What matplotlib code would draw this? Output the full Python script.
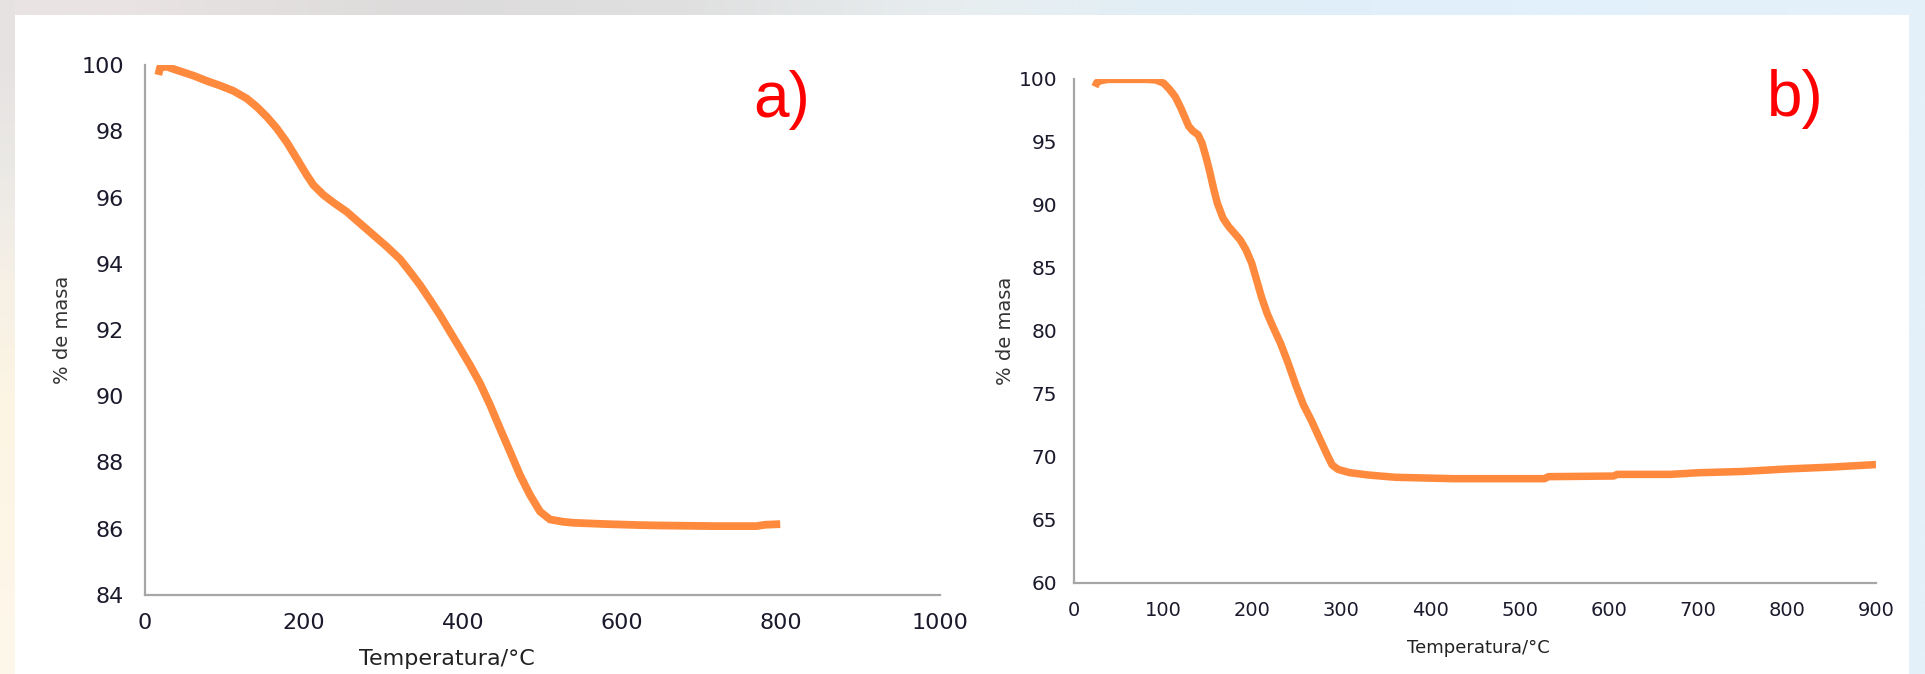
import numpy as np
import matplotlib
matplotlib.use("Agg")
import matplotlib.pyplot as plt
from matplotlib.colors import to_rgb
from matplotlib.patches import Rectangle

# ---------------- data ----------------
temp_a = [16.8, 18.9, 27.3, 35.6, 48.2, 60.8, 77.6, 94.3, 111.1, 127.9, 140.5,
          153.1, 165.7, 178.3, 190.8, 203.4, 211.7, 224.3, 236.9, 253.7, 270.4,
          287.2, 304.0, 320.8, 333.3, 345.9, 358.5, 371.1, 383.6, 396.2, 408.8,
          421.4, 434.0, 446.5, 459.1, 471.7, 484.3, 496.9, 509.4, 526.2, 538.8,
          580.7, 622.6, 644.0, 715.0, 769.0, 780.0, 799.0]
mass_a = [99.70, 99.92, 99.95, 99.88, 99.78, 99.68, 99.52, 99.38, 99.22, 98.99,
          98.74, 98.44, 98.09, 97.67, 97.18, 96.68, 96.38, 96.08, 95.85, 95.57,
          95.22, 94.87, 94.52, 94.14, 93.76, 93.36, 92.91, 92.45, 91.95, 91.45,
          90.94, 90.39, 89.74, 89.03, 88.33, 87.62, 87.02, 86.52, 86.28, 86.21,
          86.18, 86.14, 86.11, 86.10, 86.08, 86.08, 86.12, 86.14]

temp_b = [23.5, 25.6, 29.9, 38.5, 81.4, 92.1, 100.8, 107.2, 113.6, 120.1, 124.4,
          128.6, 133.0, 139.4, 143.7, 148.0, 152.3, 156.6, 160.9, 167.3, 173.7,
          180.2, 186.6, 193.1, 199.5, 206.0, 210.3, 216.7, 223.2, 231.8, 240.4,
          248.9, 257.5, 266.1, 274.7, 283.3, 289.7, 296.2, 309.1, 330.5, 360.6,
          425.0, 528.0, 532.4, 605.4, 609.7, 669.0, 700.0, 750.0, 800.0, 850.0,
          900.0]
mass_b = [99.39, 99.71, 99.87, 99.97, 99.97, 99.92, 99.66, 99.18, 98.60, 97.67,
          96.96, 96.27, 95.90, 95.56, 94.90, 93.84, 92.65, 91.32, 90.13, 88.94,
          88.28, 87.75, 87.22, 86.43, 85.37, 83.78, 82.72, 81.40, 80.34, 79.02,
          77.43, 75.71, 74.13, 72.94, 71.61, 70.29, 69.37, 69.02, 68.76, 68.57,
          68.39, 68.28, 68.28, 68.44, 68.49, 68.62, 68.62, 68.75, 68.85, 69.05,
          69.20, 69.40]

xticks_a = [0, 200, 400, 600, 800, 1000]
yticks_a = [84, 86, 88, 90, 92, 94, 96, 98, 100]
xticks_b = [0, 100, 200, 300, 400, 500, 600, 700, 800, 900]
yticks_b = [60, 65, 70, 75, 80, 85, 90, 95, 100]
panel_labels = ["a)", "b)"]
x_label = "Temperatura/°C"
y_label = "% de masa"

# ---------------- figure ----------------
W, H = 1925, 674
fig = plt.figure(figsize=(W / 100, H / 100), dpi=100)
fig.patch.set_facecolor("white")

# slide-like background frame
bg = fig.add_axes([0, 0, 1, 1], zorder=-10)
top_cols = ["#e9e3e3", "#dddbdb", "#e0e0e0", "#e8eef0", "#e0eef8", "#e2f0fc", "#e4f0fa"]
grad = np.array([to_rgb(c) for c in top_cols])[None, :, :]
bg.imshow(grad, aspect="auto", extent=[0, 1, 0, 1], interpolation="bilinear")
bg.set_xlim(0, 1)
bg.set_ylim(0, 1)
bg.axis("off")

ls = fig.add_axes([0, 0, 15 / W, 1], zorder=-9)
left_cols = ["#e6e2e2", "#ebe9e6", "#f6f0e6", "#fcf5e4", "#fdf6e6", "#fdf7ea"]
vgrad = np.array([to_rgb(c) for c in left_cols])[:, None, :]
ls.imshow(vgrad, aspect="auto", extent=[0, 1, 0, 1], interpolation="bilinear")
ls.axis("off")

bg.add_patch(Rectangle((15 / W, 0), (1909 - 15) / W, 1 - 15 / H,
                       facecolor="white", edgecolor="none", zorder=5))

LINE = "#ff8a3d"
SPINE = "#a6a6a6"
TICKC = "#1a1a2c"


def style(ax, fs, ypad, xpad):
    ax.set_facecolor("none")
    for s in ["top", "right"]:
        ax.spines[s].set_visible(False)
    for s in ["left", "bottom"]:
        ax.spines[s].set_color(SPINE)
        ax.spines[s].set_linewidth(1.6)
    ax.tick_params(length=0, labelsize=fs, labelcolor=TICKC)
    ax.tick_params(axis="y", pad=ypad)
    ax.tick_params(axis="x", pad=xpad)


# panel a
axa = fig.add_axes([145 / W, 1 - 595 / H, 795 / W, 530 / H])
axa.plot(temp_a, mass_a, color=LINE, lw=5.6, solid_joinstyle="round",
         solid_capstyle="butt")
axa.set_xlim(0, 1000)
axa.set_ylim(84, 100)
axa.set_xticks(xticks_a)
axa.set_yticks(yticks_a)
style(axa, 16, 15, 13)
axa.set_xlabel(x_label, fontsize=16, color="#222222", va="center")
axa.xaxis.set_label_coords(0.380, -0.121)
axa.set_ylabel(y_label, fontsize=14, color="#333333", va="center", ha="center")
axa.yaxis.set_label_coords(-0.104, 0.5)

# panel b
axb = fig.add_axes([1074 / W, 1 - 583 / H, 802 / W, 504 / H])
axb.plot(temp_b, mass_b, color=LINE, lw=5.4, solid_joinstyle="round",
         solid_capstyle="butt")
axb.set_xlim(0, 900)
axb.set_ylim(60, 100)
axb.set_xticks(xticks_b)
axb.set_yticks(yticks_b)
style(axb, 14, 12, 13)
axb.tick_params(axis="y", labelsize=14.5)
axb.set_xlabel(x_label, fontsize=13, color="#222222", va="center")
axb.xaxis.set_label_coords(0.504, -0.129)
axb.set_ylabel(y_label, fontsize=14, color="#333333", va="center", ha="center")
axb.yaxis.set_label_coords(-0.086, 0.5)

# panel letters
fig.text(782 / W, 1 - 117 / H, panel_labels[0], color="#ff0000", fontsize=46,
         family="Liberation Sans", ha="center", va="baseline")
fig.text(1795 / W, 1 - 116 / H, panel_labels[1], color="#ff0000", fontsize=46,
         family="Liberation Sans", ha="center", va="baseline")

fig.savefig("out.png", dpi=100, facecolor=fig.get_facecolor())
